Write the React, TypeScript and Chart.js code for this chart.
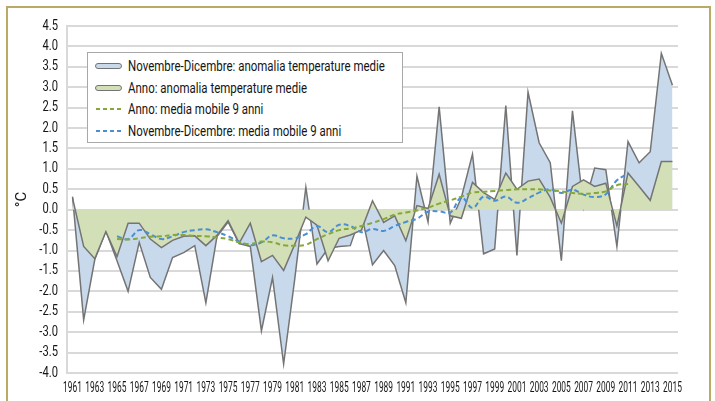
import React, { useEffect, useRef } from "react";
import { Chart, registerables } from "chart.js";

Chart.register(...registerables);

const years = [
  "1961", "1962", "1963", "1964", "1965", "1966", "1967", "1968", "1969", "1970",
  "1971", "1972", "1973", "1974", "1975", "1976", "1977", "1978", "1979", "1980",
  "1981", "1982", "1983", "1984", "1985", "1986", "1987", "1988", "1989", "1990",
  "1991", "1992", "1993", "1994", "1995", "1996", "1997", "1998", "1999", "2000",
  "2001", "2002", "2003", "2004", "2005", "2006", "2007", "2008", "2009", "2010",
  "2011", "2012", "2013", "2014", "2015",
];

// Novembre-Dicembre: anomalia temperature medie
const ndAnomaly = [
  0.32, -2.7, -1.22, -0.52, -1.25, -2.0, -0.8, -1.66, -1.95, -1.17,
  -1.05, -0.88, -2.28, -0.66, -0.3, -0.83, -0.9, -2.97, -1.66, -3.78,
  -1.7, 0.55, -1.33, -0.95, -0.9, -0.88, -0.1, -1.35, -1.0, -1.37,
  -2.28, 0.82, -0.3, 2.52, -0.33, 0.3, 1.36, -1.08, -0.96, 2.55,
  -1.12, 2.88, 1.64, 1.15, -1.25, 2.42, 0.05, 1.02, 0.98, -0.9,
  1.67, 1.15, 1.42, 3.83, 3.05,
];

// Anno: anomalia temperature medie
const annoAnomaly = [
  0.28, -0.9, -1.2, -0.54, -1.15, -0.33, -0.33, -0.72, -0.93, -0.75,
  -0.65, -0.64, -0.88, -0.63, -0.27, -0.82, -0.33, -1.27, -1.12, -1.49,
  -0.85, -0.18, -0.38, -1.25, -0.7, -0.62, -0.5, 0.22, -0.31, -0.15,
  -0.76, 0.1, 0.03, 0.87, -0.15, -0.21, 0.67, 0.42, 0.25, 0.9,
  0.5, 0.7, 0.75, 0.3, -0.33, 0.57, 0.73, 0.57, 0.65, -0.4,
  0.9, 0.57, 0.23, 1.18, 1.18,
];

// Anno: media mobile 9 anni
const annoMovingAvg = [
  null, null, null, null, -0.72, -0.73, -0.7, -0.66, -0.65, -0.62,
  -0.62, -0.64, -0.65, -0.68, -0.72, -0.8, -0.84, -0.78, -0.8, -0.87,
  -0.88, -0.86, -0.72, -0.6, -0.5, -0.46, -0.4, -0.32, -0.23, -0.12,
  -0.07, -0.02, 0.05, 0.15, 0.23, 0.32, 0.42, 0.44, 0.46, 0.48,
  0.5, 0.5, 0.5, 0.47, 0.45, 0.41, 0.39, 0.41, 0.45, 0.6,
  0.63, null, null, null, null,
];

// Novembre-Dicembre: media mobile 9 anni
const ndMovingAvg = [
  null, null, null, null, -0.65, -0.72, -0.5, -0.6, -0.72, -0.65,
  -0.55, -0.5, -0.48, -0.55, -0.65, -0.78, -0.87, -0.8, -0.63, -0.7,
  -0.7, -0.6, -0.4, -0.55, -0.37, -0.4, -0.55, -0.47, -0.52, -0.4,
  -0.3, -0.22, -0.05, -0.04, -0.07, 0.3, 0.04, 0.32, 0.22, 0.32,
  0.17, 0.28, 0.42, 0.5, 0.41, 0.49, 0.37, 0.31, 0.38, 0.72,
  0.88, null, null, null, null,
];

const seriesNames = [
  "Novembre-Dicembre: anomalia temperature medie",
  "Anno: anomalia temperature medie",
  "Anno: media mobile 9 anni",
  "Novembre-Dicembre: media mobile 9 anni",
];

const yAxisTitle = "°C";

const FONT = "Roboto, 'Liberation Sans', sans-serif";
const ND_FILL = "#c8d9ec";
const ANNO_FILL = "#d3dfb6";
const EDGE = "#747474";
const ANNO_DASH = "#86a83a";
const ND_DASH = "#4a8ed4";
const TEXT = "#151515";

// Draw the scale's own tick labels horizontally condensed (narrow typeface look).
function condenseLabels(scale: any, sx: number) {
  if (scale.__condensed) return;
  scale.__condensed = true;
  const orig = scale.drawLabels.bind(scale);
  scale.drawLabels = (area: any) => {
    const ctx = scale.ctx;
    const proto = Object.getPrototypeOf(ctx).fillText;
    ctx.fillText = function (t: string, x: number, y: number, mw?: number) {
      this.save();
      this.scale(sx, 1);
      if (mw === undefined || mw === null) proto.call(this, t, x / sx, y);
      else proto.call(this, t, x / sx, y, mw / sx);
      this.restore();
    };
    try {
      orig(area);
    } finally {
      delete ctx.fillText;
    }
  };
}

function App() {
  const canvasRef = useRef<HTMLCanvasElement | null>(null);

  useEffect(() => {
    const canvas = canvasRef.current;
    if (!canvas) return;
    const chart = new Chart(canvas, {
      type: "line",
      data: {
        labels: years,
        datasets: [
          {
            label: seriesNames[2],
            data: annoMovingAvg,
            borderColor: ANNO_DASH,
            borderWidth: 2,
            borderDash: [5, 3],
            pointRadius: 0,
            fill: false,
            tension: 0.4,
            order: 1,
          },
          {
            label: seriesNames[3],
            data: ndMovingAvg,
            borderColor: ND_DASH,
            borderWidth: 2,
            borderDash: [5, 3],
            pointRadius: 0,
            fill: false,
            tension: 0.4,
            order: 2,
          },
          {
            label: seriesNames[1],
            data: annoAnomaly,
            borderColor: EDGE,
            borderWidth: 1.5,
            backgroundColor: ANNO_FILL,
            pointRadius: 0,
            fill: "origin",
            tension: 0,
            order: 3,
          },
          {
            label: seriesNames[0],
            data: ndAnomaly,
            borderColor: EDGE,
            borderWidth: 1.5,
            backgroundColor: ND_FILL,
            pointRadius: 0,
            fill: "origin",
            tension: 0,
            order: 4,
          },
        ],
      },
      options: {
        responsive: false,
        animation: false,
        layout: { padding: { left: 0, right: 37, top: 26, bottom: 0 } },
        plugins: {
          legend: { display: false },
          tooltip: { enabled: false },
        },
        scales: {
          x: {
            type: "category",
            offset: true,
            grid: { display: false, drawTicks: false },
            border: { display: false },
            ticks: {
              autoSkip: false,
              maxRotation: 0,
              minRotation: 0,
              padding: 7,
              color: TEXT,
              font: { family: FONT, size: 14 },
              callback: function (this: any, value: any, index: number) {
                return index % 2 === 0 ? this.getLabelForValue(value) : "";
              },
            },
            afterFit: (scale: any) => {
              scale.height = 28;
              condenseLabels(scale, 0.6);
            },
          },
          y: {
            min: -4,
            max: 4.5,
            ticks: {
              stepSize: 0.5,
              padding: 9,
              color: TEXT,
              font: { family: FONT, size: 14 },
              callback: (v: any) => Number(v).toFixed(1),
            },
            grid: { color: "#d9d9d9", lineWidth: 2, drawTicks: false },
            border: { display: true, color: "#d9d9d9", width: 2 },
            title: {
              display: true,
              text: yAxisTitle,
              color: TEXT,
              font: { family: FONT, size: 15 },
              padding: { top: 13, bottom: 0 },
            },
            afterFit: (scale: any) => {
              scale.width = 67;
              condenseLabels(scale, 0.8);
            },
          },
        },
      },
    } as any);
    return () => chart.destroy();
  }, []);

  const legendRow = (i: number, icon: React.ReactNode) => (
    <div
      key={i}
      style={{
        position: "absolute",
        left: 7,
        top: 3 + i * 21.7,
        height: 20,
        display: "flex",
        alignItems: "center",
        whiteSpace: "nowrap",
      }}
    >
      <div style={{ width: 28, height: 20, display: "flex", alignItems: "center" }}>{icon}</div>
      <span
        style={{
          marginLeft: 5,
          fontFamily: FONT,
          fontSize: 15,
          color: TEXT,
          display: "inline-block",
          transform: "scaleX(0.765)",
          transformOrigin: "left center",
        }}
      >
        {seriesNames[i]}
      </span>
    </div>
  );

  const areaIcon = (fill: string) => (
    <div
      style={{
        width: 25,
        height: 4,
        background: fill,
        border: `1.5px solid ${EDGE}`,
        borderRadius: 3,
      }}
    />
  );

  const dashIcon = (color: string) => (
    <svg width={28} height={6}>
      <line x1={1} y1={3} x2={27} y2={3} stroke={color} strokeWidth={2} strokeDasharray="4 3" />
    </svg>
  );

  return (
    <div style={{ position: "fixed", left: 0, top: 0, width: 715, height: 401, background: "#fff", overflow: "hidden" }}>
      <canvas ref={canvasRef} width={715} height={401} style={{ position: "absolute", left: 0, top: 0 }} />
      <div
        style={{
          position: "absolute",
          left: 6,
          top: 6,
          width: 705,
          height: 430,
          boxSizing: "border-box",
          border: "2px solid #bca964",
          pointerEvents: "none",
        }}
      />
      <div
        style={{
          position: "absolute",
          left: 87,
          top: 52,
          width: 316,
          height: 91,
          boxSizing: "border-box",
          border: "1px solid #a8a8a8",
          background: "#fff",
        }}
      >
        {legendRow(0, areaIcon(ND_FILL))}
        {legendRow(1, areaIcon(ANNO_FILL))}
        {legendRow(2, dashIcon(ANNO_DASH))}
        {legendRow(3, dashIcon(ND_DASH))}
      </div>
    </div>
  );
}

export default App;
